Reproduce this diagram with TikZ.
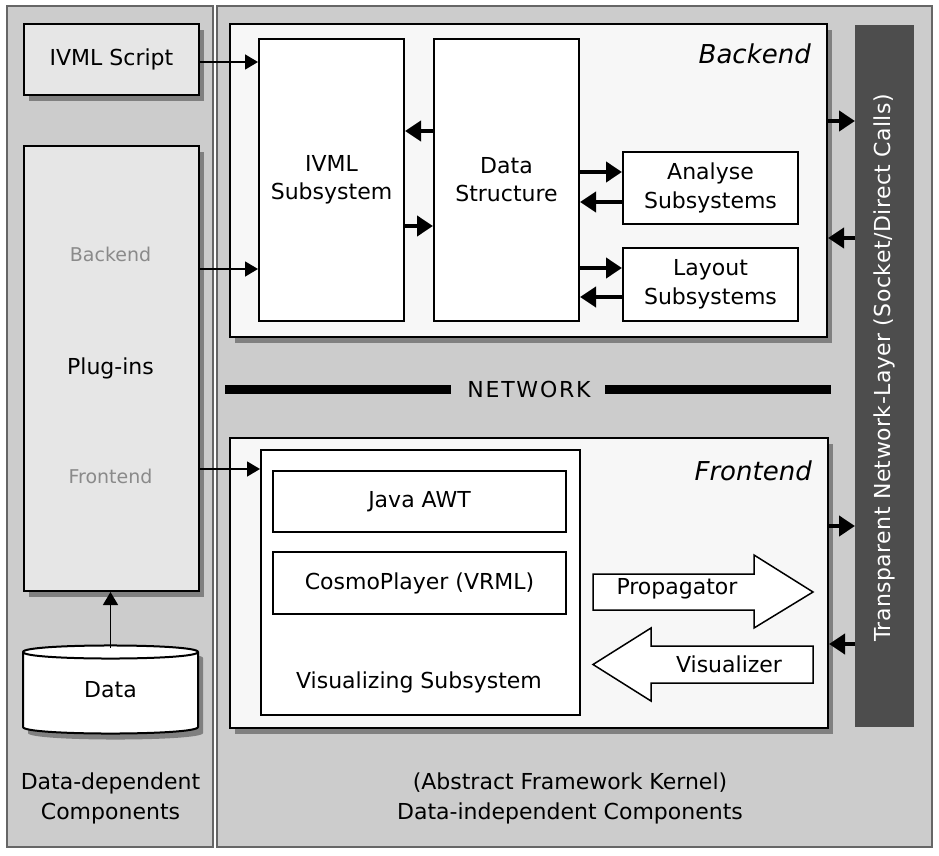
\documentclass[tikz,border=0pt]{standalone}
\usepackage{fontspec}
\setmainfont{DejaVu Sans}
\usetikzlibrary{arrows.meta,shadows}
\definecolor{panel}{HTML}{CCCCCC}
\definecolor{panelline}{HTML}{666666}
\definecolor{boxgray}{HTML}{E6E6E6}
\definecolor{boxlight}{HTML}{F7F7F7}
\definecolor{shad}{HTML}{808080}
\definecolor{bardark}{HTML}{4D4D4D}
\definecolor{txtgray}{HTML}{8A8A8A}
\tikzset{
 panelbox/.style={draw=panelline, line width=2pt, fill=panel},
 bx/.style={draw=black, line width=2pt, inner sep=0pt, anchor=north west, align=center, font=\fontsize{22}{28}\selectfont},
 shadowed/.style={general shadow={fill=shad, shadow xshift=5pt, shadow yshift=-6pt}},
 thinarr/.style={line width=1.5pt, -{Triangle[length=13pt,width=15pt]}},
 thickarr/.style={line width=4.5pt, -{Triangle[length=16pt,width=20pt]}},
 lbl/.style={inner sep=0pt, align=center, font=\fontsize{22}{30}\selectfont},
 graylbl/.style={inner sep=0pt, text=txtgray, font=\fontsize{19}{22}\selectfont},
 title/.style={inner sep=0pt, anchor=base east, font=\fontsize{26}{30}\selectfont\itshape},
 blockarrow/.style={draw=black, line width=1.5pt, fill=white, line join=miter},
}
\begin{document}
\begin{tikzpicture}[x=1pt,y=-1pt]
\useasboundingbox (0,0) rectangle (939,856);
\fill[white] (0,0) rectangle (939,856);
% panels
\draw[panelbox] (7,6) rectangle (213,847);
\draw[panelbox] (217,6) rectangle (932,847);

% left column
\node[bx, fill=boxgray, shadowed, minimum width=175pt, minimum height=71pt] (script) at (23,23) {IVML Script};
\node[bx, fill=boxgray, shadowed, minimum width=175pt, minimum height=445pt] (plugins) at (23,145) {};
\node[graylbl] (pbe) at (110.5,254) {Backend};
\node[lbl] (plabel) at (110.5,368) {Plug-ins};
\node[graylbl] (pfe) at (110.5,476) {Frontend};

% data cylinder
\fill[shad] (28,658) .. controls (28,649.3) and (203,649.3) .. (203,658) -- (203,733) .. controls (203,741.7) and (28,741.7) .. (28,733) -- cycle;
\draw[line width=2pt, fill=white] (23,652) .. controls (23,643.3) and (198,643.3) .. (198,652) -- (198,727) .. controls (198,735.7) and (23,735.7) .. (23,727) -- cycle;
\draw[line width=2pt] (23,652) .. controls (23,660.7) and (198,660.7) .. (198,652);
\node[lbl] (data) at (110.5,690) {Data};
\coordinate (datatop) at (110.5,648);

\node[lbl] (ddc) at (110.5,798) {Data-dependent\\Components};

% backend
\node[bx, fill=boxlight, shadowed, minimum width=597pt, minimum height=313pt] (backend) at (229,23) {};
\node[title] (betitle) at (811,64) {Backend};
\node[bx, fill=white, minimum width=145pt, minimum height=282pt] (ivml) at (258,38) {IVML\\Subsystem};
\node[bx, fill=white, minimum width=145pt, minimum height=282pt] (ds) at (433,38) {Data\\Structure};
\node[bx, fill=white, minimum width=175pt, minimum height=72pt, font=\fontsize{22}{29}\selectfont] (analyse) at (622,151) {Analyse\\Subsystems};
\node[bx, fill=white, minimum width=175pt, minimum height=73pt, font=\fontsize{22}{29}\selectfont] (layout) at (622,247) {Layout\\Subsystems};

% network bar
\node[fill=bardark, anchor=north west, inner sep=0pt, minimum width=59pt, minimum height=702pt] (net) at (855,25) {};
\node[rotate=90, text=white, inner sep=0pt, font=\fontsize{22}{26}\selectfont\addfontfeatures{LetterSpace=2}] (nettext) at (884.5,368) {Transparent Network-Layer (Socket/Direct Calls)};

% NETWORK line
\node[lbl, font=\fontsize{22}{30}\selectfont\addfontfeatures{LetterSpace=8}] (network) at (529,389) {NETWORK};
\draw[line width=9pt] (225,389) -- (451,389);
\draw[line width=9pt] (605,389) -- (831,389);

% frontend
\node[bx, fill=boxlight, shadowed, minimum width=598pt, minimum height=290pt] (frontend) at (229,437) {};
\node[title] (fetitle) at (812,480) {Frontend};
\node[bx, fill=white, minimum width=319pt, minimum height=265pt] (vis) at (260,449) {};
\node[bx, fill=white, minimum width=293pt, minimum height=61pt] (awt) at (272,470) {Java AWT};
\node[bx, fill=white, minimum width=293pt, minimum height=62pt] (cosmo) at (272,551) {CosmoPlayer (VRML)};
\node[lbl] (vislabel) at (419,682) {Visualizing Subsystem};

% block arrows
\draw[blockarrow] (593,574) -- (754,574) -- (754,555) -- (813,592) -- (754,628) -- (754,610) -- (593,610) -- cycle;
\node[lbl] (prop) at (677,589) {Propagator};
\draw[blockarrow] (813,646) -- (651,646) -- (651,628) -- (593,664.5) -- (651,701) -- (651,683) -- (813,683) -- cycle;
\node[lbl] (visu) at (729,664) {Visualizer};

% bottom label
\node[lbl] (afk) at (570,798) {(Abstract Framework Kernel)\\Data-independent Components};

% connectors
\draw[thinarr] (script.east |- 0,62) -- (ivml.west |- 0,62);
\draw[thinarr] (plugins.east |- 0,269) -- (ivml.west |- 0,269);
\draw[thinarr] (plugins.east |- 0,469) -- (vis.west |- 0,469);
\draw[thinarr] (datatop) -- (datatop |- plugins.south);
\draw[thickarr] (ds.west |- 0,131) -- (ivml.east |- 0,131);
\draw[thickarr] (ivml.east |- 0,226) -- (ds.west |- 0,226);
\draw[thickarr] (ds.east |- 0,172) -- (analyse.west |- 0,172);
\draw[thickarr] (analyse.west |- 0,202) -- (ds.east |- 0,202);
\draw[thickarr] (ds.east |- 0,268) -- (layout.west |- 0,268);
\draw[thickarr] (layout.west |- 0,297) -- (ds.east |- 0,297);
\draw[thickarr] (backend.east |- 0,121) -- (net.west |- 0,121);
\draw[thickarr] (net.west |- 0,238) -- (backend.east |- 0,238);
\draw[thickarr] (frontend.east |- 0,526) -- (net.west |- 0,526);
\draw[thickarr] (net.west |- 0,644) -- (frontend.east |- 0,644);
\end{tikzpicture}
\end{document}
